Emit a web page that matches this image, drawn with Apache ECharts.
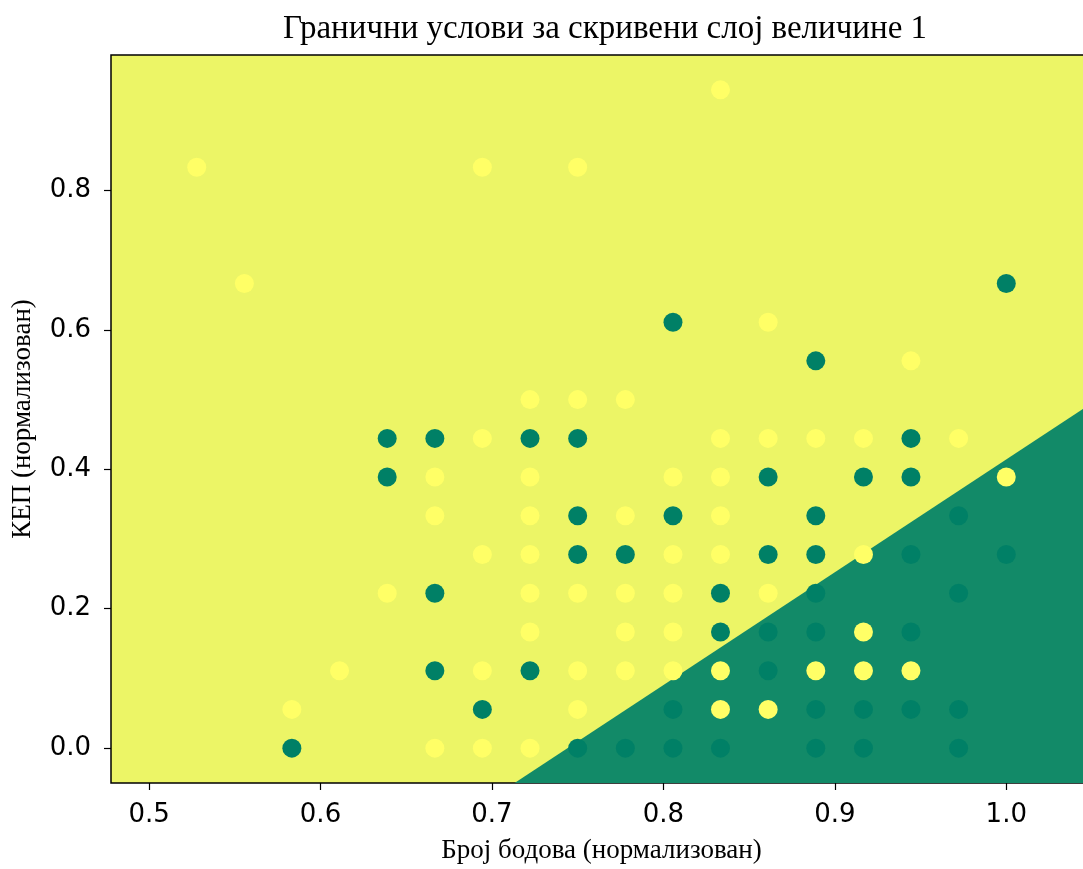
<!DOCTYPE html>
<html>
<head>
<meta charset="utf-8">
<script src="https://cdn.jsdelivr.net/npm/echarts@6/dist/echarts.min.js"></script>
<style>html,body{margin:0;padding:0;background:#fff;overflow:hidden;}#c{width:1092px;height:869px;}</style>
</head>
<body>
<div id="c"></div>
<script>
// Class 1 (dark green) points
const greenX = [0.5833,0.75,0.7778,0.8056,0.8333,0.8889,0.9167,0.9722,
  0.6944,0.8056,0.8889,0.9167,0.9444,0.9722,
  0.6667,0.7222,0.8611,
  0.8333,0.8611,0.8889,0.9444,
  0.6667,0.8333,0.8889,0.9722,
  0.75,0.7778,0.8611,0.8889,0.9444,1.0,
  0.75,0.8056,0.8889,0.9722,
  0.6389,0.8611,0.9167,0.9444,
  0.6389,0.6667,0.7222,0.75,0.9444,
  0.8889,0.8056,1.0];
const greenY = [0,0,0,0,0,0,0,0,
  0.0556,0.0556,0.0556,0.0556,0.0556,0.0556,
  0.1111,0.1111,0.1111,
  0.1667,0.1667,0.1667,0.1667,
  0.2222,0.2222,0.2222,0.2222,
  0.2778,0.2778,0.2778,0.2778,0.2778,0.2778,
  0.3333,0.3333,0.3333,0.3333,
  0.3889,0.3889,0.3889,0.3889,
  0.4444,0.4444,0.4444,0.4444,0.4444,
  0.5556,0.6111,0.6667];
// Class 0 (yellow) points
const yellowX = [0.6667,0.6944,0.7222,
  0.5833,0.75,0.8333,0.8611,
  0.6111,0.6944,0.75,0.7778,0.8056,0.8333,0.8889,0.9167,0.9444,
  0.7222,0.7778,0.8056,0.9167,
  0.6389,0.7222,0.75,0.7778,0.8056,0.8611,
  0.6944,0.7222,0.8056,0.8333,0.9167,
  0.6667,0.7222,0.7778,0.8333,
  0.6667,0.7222,0.8056,0.8333,1.0,
  0.6944,0.8333,0.8611,0.8889,0.9167,0.9722,
  0.7222,0.75,0.7778,
  0.9444,0.8611,0.5556,
  0.5278,0.6944,0.75,
  0.8333];
const yellowY = [0,0,0,
  0.0556,0.0556,0.0556,0.0556,
  0.1111,0.1111,0.1111,0.1111,0.1111,0.1111,0.1111,0.1111,0.1111,
  0.1667,0.1667,0.1667,0.1667,
  0.2222,0.2222,0.2222,0.2222,0.2222,0.2222,
  0.2778,0.2778,0.2778,0.2778,0.2778,
  0.3333,0.3333,0.3333,0.3333,
  0.3889,0.3889,0.3889,0.3889,0.3889,
  0.4444,0.4444,0.4444,0.4444,0.4444,0.4444,
  0.5,0.5,0.5,
  0.5556,0.6111,0.6667,
  0.8333,0.8333,0.8333,
  0.9444];
// Decision boundary (edge of green region)
const boundaryX = [0.7132, 1.05];
const boundaryY = [-0.05, 0.4953];
const xTicks = [0.5, 0.6, 0.7, 0.8, 0.9, 1.0];
const yTicks = [0.0, 0.2, 0.4, 0.6, 0.8];

const zip = (a, b) => a.map((v, i) => [v, b[i]]);
const serif = 'Liberation Serif';
const sans = 'DejaVu Sans';

const chart = echarts.init(document.getElementById('c'));
chart.setOption({
  animation: false,
  backgroundColor: '#ffffff',
  title: {
    text: 'Гранични услови за скривени слој величине 1',
    left: 600, top: 8, textAlign: 'center',
    textStyle: { fontFamily: serif, fontWeight: 'normal', fontSize: 33, color: '#000' }
  },
  grid: {
    left: 111, top: 55, right: 0, bottom: 82,
    show: true, backgroundColor: '#ecf566', borderColor: '#000', borderWidth: 1.5
  },
  xAxis: {
    type: 'value', min: 0.4778, max: 1.05,
    name: 'Број бодова (нормализован)', nameLocation: 'middle', nameGap: 54,
    nameTextStyle: { fontFamily: serif, fontSize: 27, color: '#000' },
    axisLine: { show: false, onZero: false },
    axisTick: { show: true, length: 7, lineStyle: { color: '#000', width: 1.2 }, customValues: xTicks },
    axisLabel: { customValues: xTicks, fontFamily: sans, fontSize: 26, color: '#000', margin: 19,
      formatter: v => v.toFixed(1) },
    splitLine: { show: false }
  },
  yAxis: {
    type: 'value', min: -0.05, max: 0.9944,
    name: 'КЕП (нормализован)', nameLocation: 'middle', nameGap: 75,
    nameTextStyle: { fontFamily: serif, fontSize: 27, color: '#000' },
    axisLine: { show: false, onZero: false },
    axisTick: { show: true, length: 7, lineStyle: { color: '#000', width: 1.2 }, customValues: yTicks },
    axisLabel: { customValues: yTicks, fontFamily: sans, fontSize: 26, color: '#000', margin: 20,
      formatter: v => v.toFixed(1) },
    splitLine: { show: false }
  },
  series: [
    {
      type: 'line', data: zip(boundaryX, boundaryY), symbol: 'none',
      lineStyle: { width: 0, color: '#128a68' },
      areaStyle: { color: '#128a68', opacity: 1, origin: 'start' },
      z: 1, silent: true
    },
    {
      type: 'scatter', data: zip(greenX, greenY), symbolSize: 19,
      itemStyle: { color: '#008066', opacity: 1 }, z: 3
    },
    {
      type: 'scatter', data: zip(yellowX, yellowY), symbolSize: 19,
      itemStyle: { color: '#ffff66', opacity: 1 }, z: 3
    }
  ]
});
</script>
</body>
</html>
